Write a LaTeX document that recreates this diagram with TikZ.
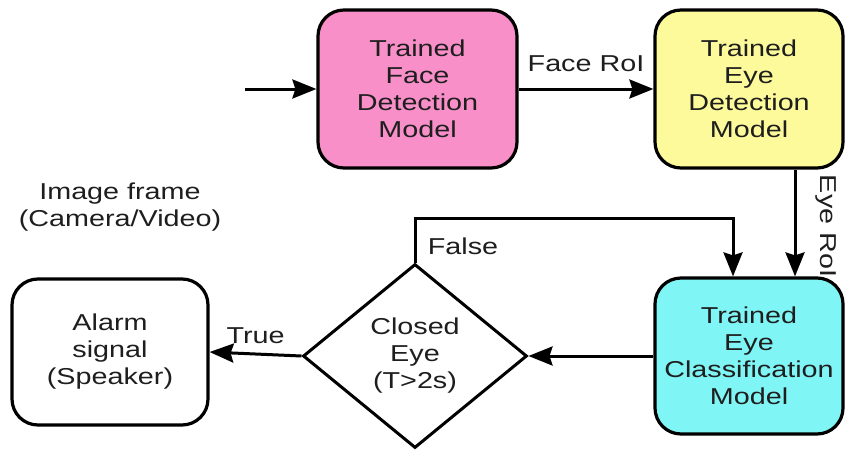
\documentclass[tikz,border=0pt]{standalone}
\usepackage{fontspec}
\setmainfont[FakeStretch=1.25]{Liberation Sans}
\usetikzlibrary{arrows.meta,shapes.geometric}
\definecolor{pinkfill}{RGB}{248,143,200}
\definecolor{yellowfill}{RGB}{253,250,155}
\definecolor{cyanfill}{RGB}{128,245,246}
\definecolor{txt}{RGB}{30,30,30}
\tikzset{
  box/.style={draw=black, line width=3.2pt, rounded corners=26pt, align=center,
    text=txt, font=\fontsize{23}{27}\selectfont, inner sep=0pt},
  lbl/.style={text=txt, font=\fontsize{23}{27}\selectfont, align=center, inner sep=0pt},
  arr/.style={draw=black, line width=3pt, -{Stealth[length=24pt,width=19pt,inset=3pt]}},
}
\begin{document}
\begin{tikzpicture}[x=1pt,y=-1pt]
\useasboundingbox (0,0) rectangle (845,455);
\node[box, fill=pinkfill, minimum width=199pt, minimum height=158pt] (face) at (417.5,89) {Trained\\Face\\Detection\\Model};
\node[box, fill=yellowfill, minimum width=188pt, minimum height=158pt] (eyedet) at (749,89) {Trained\\Eye\\Detection\\Model};
\node[box, fill=cyanfill, minimum width=188pt, minimum height=156pt] (cls) at (749,356) {Trained\\Eye\\Classification\\Model};
\node[box, fill=white, minimum width=196pt, minimum height=146pt] (alarm) at (110,352) {Alarm\\signal\\(Speaker)};
\node[draw=black, line width=3pt, diamond, minimum width=224pt, minimum height=184pt, inner sep=0pt, fill=white] (dec) at (415,356) {};
\node[lbl] (dectext) at (dec.center) {Closed\\Eye\\(T>2s)};
\node[lbl] (imgframe) at (120,207) {Image frame\\(Camera/Video)};
\coordinate (in) at (245,89);
\coordinate (fk) at (733,218);
\draw[arr] (in) -- (face.west);
\draw[arr] (face.east) -- node[lbl, above=16pt] (facerol) {Face RoI} (eyedet.west);
\draw[arr] ([xshift=46pt]eyedet.south) -- ([xshift=46pt]cls.north);
\node[lbl, rotate=-90] (eyerol) at (826,226) {Eye RoI};
\draw[arr] (cls.west) -- (dec.east);
\draw[arr] (dec.west) -- node[lbl, above=9pt] (truelbl) {True} (alarm.east);
\draw[arr] (dec.north) |- (fk) -- (fk |- cls.north);
\node[lbl] (falselbl) at (463,246) {False};
\end{tikzpicture}
\end{document}
